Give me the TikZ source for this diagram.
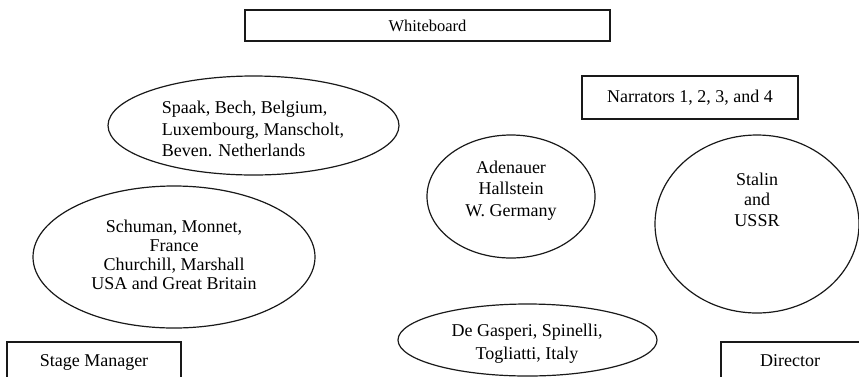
\documentclass[tikz,border=0pt]{standalone}
\usepackage{fontspec}
\setmainfont{Liberation Serif}
\usetikzlibrary{shapes.geometric}
\begin{document}
\begin{tikzpicture}[x=1pt,y=-1pt,
  font=\fontsize{18}{21}\selectfont,
  stagebox/.style={draw=black!90, line width=1.2pt, rectangle, inner sep=0pt},
  oval/.style={draw=black!90, line width=1.2pt, ellipse, inner sep=0pt},
  lbl/.style={inner sep=0pt, align=center}]
\useasboundingbox (0,0) rectangle (859,376);
\clip (0,0) rectangle (859,376);
% boxes
\node[stagebox, minimum width=365pt, minimum height=31pt, font=\fontsize{16.5}{19}\selectfont] (wb) at (427.5,25.5) {Whiteboard};
\node[stagebox, minimum width=216pt, minimum height=43pt] (narr) at (690,97.5) {Narrators 1, 2, 3, and 4};
\node[stagebox, minimum width=174pt, minimum height=40pt] (sm) at (94,362) {Stage Manager};
\node[stagebox, minimum width=141pt, minimum height=40pt] (dir) at (791.5,362) {};
\node[lbl] (dirt) at (790,361) {Director};
% ellipses
\node[oval, minimum width=291pt, minimum height=99pt] (spaak) at (253.5,125.5) {};
\node[oval, minimum width=282pt, minimum height=142pt] (schuman) at (174,257) {};
\node[oval, minimum width=168pt, minimum height=123pt] (aden) at (511,196.5) {};
\node[oval, minimum width=204pt, minimum height=178pt] (stalin) at (757,224) {};
\node[oval, minimum width=259pt, minimum height=72pt] (degas) at (527.5,340) {};
% ellipse texts
\node[inner sep=0pt, align=left, font=\fontsize{18}{21.5}\selectfont] (spaakt) at (253,129)
  {Spaak, Bech, Belgium,\\Luxembourg, Manscholt,\\Beven. Netherlands};
\node[lbl, font=\fontsize{18}{19}\selectfont] (schumant) at (174,255)
  {Schuman, Monnet,\\France\\Churchill, Marshall\\USA and Great Britain};
\node[lbl, font=\fontsize{18}{21.5}\selectfont] (adent) at (511,190.5)
  {Adenauer\\Hallstein\\W. Germany};
\node[lbl, font=\fontsize{18}{20.5}\selectfont] (stalint) at (757,199.5)
  {Stalin\\and\\USSR};
\node[lbl, font=\fontsize{18}{23}\selectfont] (degast) at (527,344)
  {De Gasperi, Spinelli,\\Togliatti, Italy};
\end{tikzpicture}
\end{document}
